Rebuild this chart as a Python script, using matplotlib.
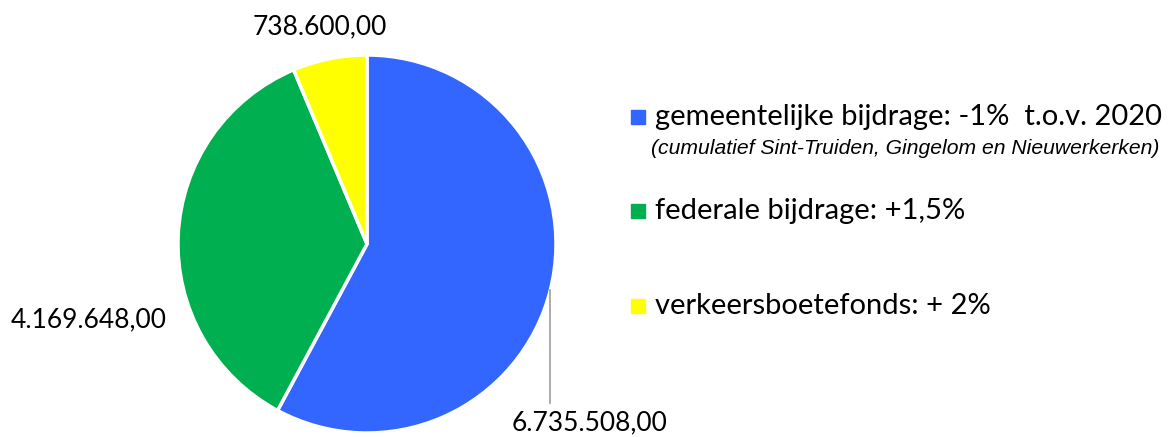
import matplotlib.pyplot as plt

# values (EUR)
categories = ["gemeentelijke bijdrage: -1%  t.o.v. 2020",
              "federale bijdrage: +1,5%",
              "verkeersboetefonds: + 2%"]
values = [6735508.00, 4169648.00, 738600.00]
labels = ["6.735.508,00", "4.169.648,00", "738.600,00"]
colors = ["#3366FF", "#00B050", "#FFFF00"]
note = "(cumulatief Sint-Truiden, Gingelom en Nieuwerkerken)"

W, H = 1175, 437
fig = plt.figure(figsize=(W / 100, H / 100), dpi=100)

# pie axes: centre (367, 244) px, radius 189 px
cx, cy, r = 367, 244, 189
ax = fig.add_axes([(cx - r) / W, (H - cy - r) / H, 2 * r / W, 2 * r / H])
ax.pie(values, colors=colors, startangle=90, counterclock=False,
       wedgeprops=dict(edgecolor="white", linewidth=2.5))
ax.set_xlim(-1, 1)
ax.set_ylim(-1, 1)
ax.set_aspect("equal")
ax.axis("off")

main_font = "Lato"
lab_kw = dict(fontsize=19, family=main_font, color="black", ha="center", va="center")

# data labels
ax.text(-0.25, 1.15, labels[2], clip_on=False, **lab_kw)
ax.text(-1.475, -0.40, labels[1], clip_on=False, **lab_kw)
ax.plot([0.968, 0.968], [-0.245, -0.84], color="#A6A6A6", lw=1.3, clip_on=False)
ax.text(1.18, -0.945, labels[0], clip_on=False, **lab_kw)

# legend drawn as markers + text in figure pixels
def fx(x):
    return x / W

def fy(y):
    return 1 - y / H

rows_y = [117, 211, 306]
for name, col, y in zip(categories, colors, rows_y):
    fig.patches.append(plt.Rectangle((fx(631), fy(y + 7)), 14 / W, 14 / H,
                                     transform=fig.transFigure, color=col))
    fig.text(fx(655), fy(y), name, fontsize=21, family=main_font,
             ha="left", va="center")
fig.text(fx(651), fy(148), note, fontsize=15.2, family="Liberation Sans",
         style="italic", ha="left", va="center")

fig.savefig("out.png", dpi=100)
